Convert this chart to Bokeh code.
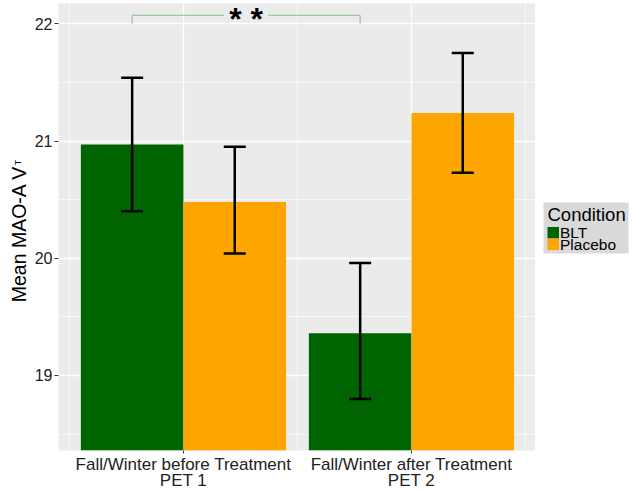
import math
from bokeh.plotting import figure
from bokeh.layouts import row
from bokeh.models import (ColumnDataSource, Range1d, FixedTicker, Whisker, TeeHead, Label)
from bokeh.core.properties import value
from bokeh.transform import dodge
from bokeh.embed import file_html
from bokeh.resources import INLINE

# ---- data ----
periods = ["Fall/Winter before Treatment\nPET 1", "Fall/Winter after Treatment\nPET 2"]
period_pos = [1, 2]
conditions = ["BLT", "Placebo"]
blt_mean = [20.97, 19.36]
blt_lower = [20.40, 18.80]
blt_upper = [21.54, 19.96]
placebo_mean = [20.48, 21.24]
placebo_lower = [20.04, 20.73]
placebo_upper = [20.95, 21.75]
y_ticks = [19, 20, 21, 22]
y_title = "Mean MAO-A V"
y_title_sub = "T"
legend_title = "Condition"
sig_label = "* *"
sig_y = 22.071
sig_tick_bottom = 22.0

colors = {"BLT": "#006400", "Placebo": "#FFA500"}
off = 0.225
FONT = "Liberation Sans"
H = 492
FRAME_TOP, FRAME_BOTTOM = 3, 450   # page pixels of the (shared) plot frame

src = ColumnDataSource(dict(pos=period_pos,
                            blt=blt_mean, blt_lo=blt_lower, blt_hi=blt_upper,
                            pla=placebo_mean, pla_lo=placebo_lower, pla_hi=placebo_upper))

# ---------------- main plot ----------------
p = figure(width=505, height=H, output_backend="svg", toolbar_location=None,
           x_range=Range1d(0.452, 2.544), y_range=Range1d(18.360, 22.173),
           min_border_left=28, min_border_top=FRAME_TOP, min_border_bottom=H - FRAME_BOTTOM,
           min_border_right=0)
p.background_fill_color = "#EBEBEB"
p.border_fill_color = "white"
p.outline_line_color = None

r_blt = p.vbar(x=dodge("pos", -off), top="blt", bottom=0, width=0.45,
               source=src, fill_color=colors["BLT"], line_color=None)
r_pla = p.vbar(x=dodge("pos", off), top="pla", bottom=0, width=0.45,
               source=src, fill_color=colors["Placebo"], line_color=None)

for key, d in (("blt", -off), ("pla", off)):
    w = Whisker(source=src, base=dodge("pos", d), upper=key + "_hi", lower=key + "_lo",
                line_width=2.5, line_color="black", level="annotation",
                upper_head=TeeHead(size=22, line_width=2.5, line_color="black"),
                lower_head=TeeHead(size=22, line_width=2.5, line_color="black"))
    p.add_layout(w)

# significance bracket between the two BLT bars
bx0 = period_pos[0] - off
bx1 = period_pos[1] - off
bmid = (bx0 + bx1) / 2
gap = 0.097
sig_col = "#9DC69D"
p.segment(x0=[bx0, bmid + gap, bx0, bx1], y0=[sig_y] * 4,
          x1=[bmid - gap, bx1, bx0, bx1], y1=[sig_y, sig_y, sig_tick_bottom, sig_tick_bottom],
          line_color=sig_col, line_width=1.3)
p.add_layout(Label(x=bmid, y=22.045, text=sig_label, text_align="center", text_baseline="alphabetic",
                   text_font=FONT, text_font_size="32px", text_font_style="bold",
                   text_color="black"))

p.xaxis.ticker = FixedTicker(ticks=period_pos, minor_ticks=[0.5, 1.5, 2.5])
p.xaxis.major_label_overrides = {pp: lab for pp, lab in zip(period_pos, periods)}
p.yaxis.ticker = FixedTicker(ticks=y_ticks, minor_ticks=[18.5, 19.5, 20.5, 21.5])
for ax in (p.xaxis[0], p.yaxis[0]):
    ax.axis_line_color = None
    ax.major_tick_in = 0
    ax.major_tick_out = 4
    ax.major_tick_line_color = "#333333"
    ax.minor_tick_line_color = None
    ax.major_label_text_font = FONT
    ax.major_label_text_color = "#222222"
    ax.major_label_standoff = 2
p.yaxis.major_label_text_font_size = "16px"
p.xaxis.major_label_text_font_size = "17px"
p.xaxis.major_label_text_line_height = 0.85
p.xaxis.major_tick_out = 3
p.xaxis.major_label_standoff = 0

p.grid.grid_line_color = "white"
p.grid.grid_line_width = 1.3
p.grid.minor_grid_line_color = "white"
p.grid.minor_grid_line_width = 0.6

# ---------------- y-axis title strip (y range maps page pixels) ----------------
lab = figure(width=30, height=H, output_backend="svg", toolbar_location=None,
             x_range=Range1d(0, 30), y_range=Range1d(FRAME_BOTTOM, FRAME_TOP),
             x_axis_type=None, y_axis_type=None, min_border=0)
lab.outline_line_color = None
lab.background_fill_color = "white"
lab.border_fill_color = "white"
lab.add_layout(Label(x=18.5, y=233.5, text=y_title, angle=math.pi / 2, text_align="center",
                     text_baseline="middle", text_font=FONT, text_font_size="19.5px",
                     text_color="black"))
lab.add_layout(Label(x=17.5, y=162, text=y_title_sub, angle=math.pi / 2, text_align="center",
                     text_baseline="middle", text_font=FONT, text_font_size="9px",
                     text_color="black"))

# ---------------- legend strip (coordinates map page pixels) ----------------
leg = figure(width=98, height=H, output_backend="svg", toolbar_location=None,
             x_range=Range1d(535, 633), y_range=Range1d(FRAME_BOTTOM, FRAME_TOP),
             x_axis_type=None, y_axis_type=None, min_border=0)
leg.outline_line_color = None
leg.background_fill_color = "white"
leg.border_fill_color = "white"
key_h = 11.5
key_top0 = 226.5
leg.quad(left=[543], right=[628], top=[202], bottom=[253], fill_color="#D9D9D9", line_color=None)
leg.text(x=[547], y=[213.5], text=[legend_title], text_font=value(FONT), text_font_size="18.5px",
         text_baseline="middle", text_align="left", text_color="black")
key_src = ColumnDataSource(dict(
    label=conditions,
    color=[colors[c] for c in conditions],
    top=[key_top0 + i * key_h for i in range(len(conditions))],
    bottom=[key_top0 + (i + 1) * key_h for i in range(len(conditions))],
    ty=[key_top0 + (i + 0.5) * key_h for i in range(len(conditions))],
))
leg.quad(left=547, right=558.5, top="top", bottom="bottom", fill_color="color", line_color=None,
         source=key_src)
leg.text(x=559.5, y="ty", text="label", text_font=value(FONT), text_font_size="15.5px",
         text_baseline="middle", text_align="left", text_color="black", source=key_src)

layout = row(lab, p, leg)
open("out.html", "w").write(file_html(layout, INLINE))
